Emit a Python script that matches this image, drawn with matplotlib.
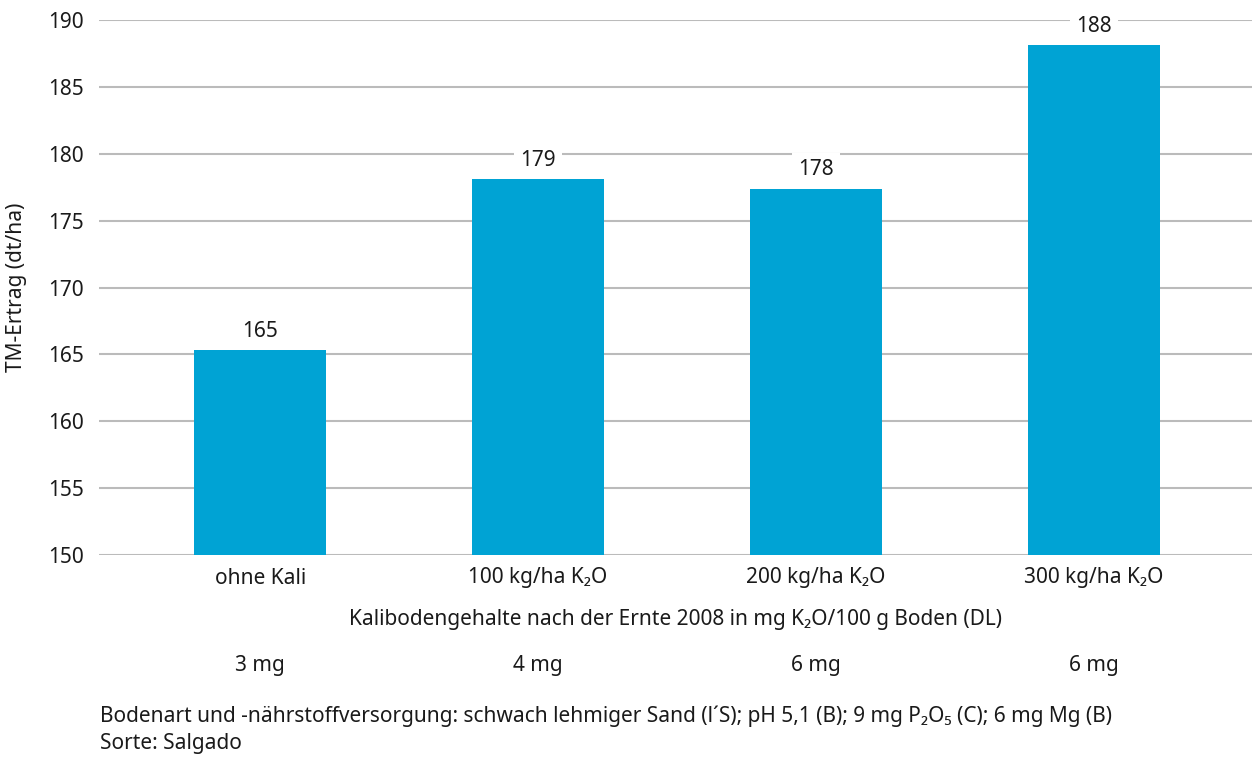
import matplotlib
matplotlib.use("Agg")
import matplotlib.pyplot as plt

categories = ["ohne Kali", "100 kg/ha K₂O", "200 kg/ha K₂O", "300 kg/ha K₂O"]
yields = [165.3, 178.1, 177.4, 188.1]
value_labels = ["165", "179", "178", "188"]
soil_k = ["3 mg", "4 mg", "6 mg", "6 mg"]
yticks = [150, 155, 160, 165, 170, 175, 180, 185, 190]

plt.rcParams['font.family'] = ['Noto Sans', 'DejaVu Sans']
FS = 15
TXT = "#1a1a1a"

fig = plt.figure(figsize=(12.52, 7.58), dpi=100)
W, H = 1252, 758
AX_L, AX_R, AX_T, AX_B = 99, 1252, 20, 555
ax = fig.add_axes([AX_L / W, 1 - AX_B / H, (AX_R - AX_L) / W, (AX_B - AX_T) / H])

x = list(range(len(categories)))
ax.bar(x, [v - 150 for v in yields], bottom=150, width=0.475, color="#00A3D4", zorder=3)
ax.set_ylim(150, 190)
ax.set_xlim(-0.58, 3.57)
ax.set_yticks(yticks)
ax.set_yticklabels([str(t) for t in yticks], fontsize=FS, color=TXT)
ax.grid(axis="y", color="#BBBBBB", linewidth=1.5, zorder=0)
ax.set_axisbelow(True)
for s in ax.spines.values():
    s.set_visible(False)
ax.tick_params(axis="both", length=0)
ax.tick_params(axis="y", pad=11)
ax.set_xticks(x)
ax.set_xticklabels(categories, fontsize=FS, color=TXT)
ax.tick_params(axis="x", pad=9)

for xi, v, lab in zip(x, yields, value_labels):
    ax.annotate(lab, (xi, v), xytext=(0, 13.5), textcoords="offset points",
                ha="center", va="center", fontsize=FS, color=TXT, zorder=2,
                bbox=dict(boxstyle="square,pad=0.3", fc="white", ec="none"))

ax.set_ylabel("TM-Ertrag (dt/ha)", fontsize=FS, color=TXT)
ax.yaxis.set_label_coords((27 - AX_L) / (AX_R - AX_L), 0.5)

fig.text((AX_L + AX_R) / 2 / W, 1 - 620 / H,
         "Kalibodengehalte nach der Ernte 2008 in mg K₂O/100 g Boden (DL)",
         ha="center", va="center", fontsize=FS, color=TXT)
row_y = -(666 - AX_B) / (AX_B - AX_T)
for xi, s in zip(x, soil_k):
    ax.text(xi, row_y, s, transform=ax.get_xaxis_transform(), fontsize=FS, color=TXT,
            ha="center", va="center")

fig.text(100 / W, 1 - 716 / H,
         "Bodenart und -nährstoffversorgung: schwach lehmiger Sand (l´S); pH 5,1 (B); 9 mg P₂O₅ (C); 6 mg Mg (B)",
         ha="left", va="center", fontsize=FS, color=TXT)
fig.text(100 / W, 1 - 744 / H, "Sorte: Salgado",
         ha="left", va="center", fontsize=FS, color=TXT)

fig.savefig("out.png", dpi=100)
